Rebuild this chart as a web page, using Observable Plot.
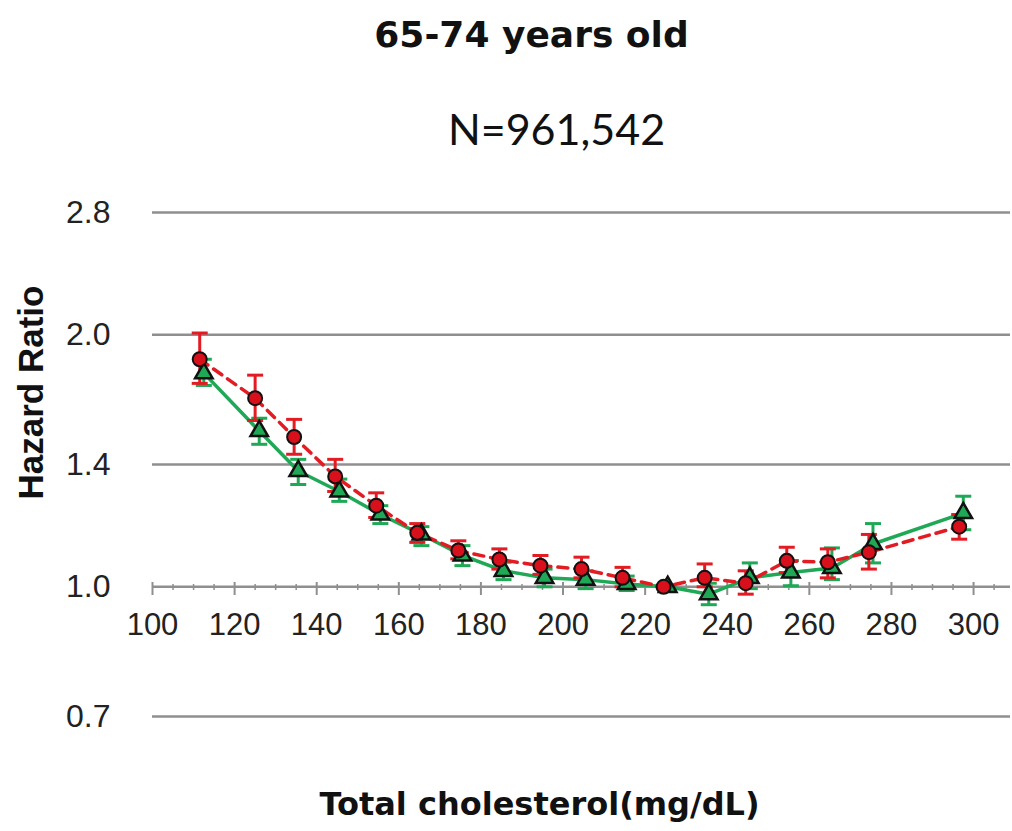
<!DOCTYPE html>
<html>
<head>
<meta charset="utf-8">
<script src="https://cdn.jsdelivr.net/npm/d3@7"></script>
<script src="https://cdn.jsdelivr.net/npm/@observablehq/plot@0.6"></script>
<style>
  html, body { margin: 0; padding: 0; background: #fff; }
  #chart svg { display: block; }
</style>
</head>
<body>
<div id="chart"></div>
<script>
// ---- Data ----
const title = "65-74 years old";
const subtitle = "N=961,542";
const xLabel = "Total cholesterol(mg/dL)";
const yLabel = "Hazard Ratio";

// series A (red circles, dashed line)
const xRed  = [111.5, 125, 134.5, 144.5, 154.5, 164.5, 174.5, 184.5, 194.5, 204.5, 214.5, 224.5, 234.5, 244.5, 254.5, 264.5, 274.5, 296.5];
const hrRed = [1.87, 1.68, 1.51, 1.355, 1.25, 1.16, 1.105, 1.078, 1.06, 1.05, 1.025, 1.0, 1.025, 1.01, 1.074, 1.07, 1.10, 1.18];
const loRed = [1.75, 1.58, 1.44, 1.30, 1.21, 1.13, 1.08, 1.05, 1.035, 1.025, 1.0, 1.0, 1.0, 0.98, 1.04, 1.025, 1.05, 1.14];
const hiRed = [2.01, 1.79, 1.585, 1.42, 1.295, 1.19, 1.135, 1.11, 1.09, 1.085, 1.055, 1.0, 1.065, 1.045, 1.115, 1.11, 1.155, 1.22];

// series B (green triangles, solid line)
const xGreen  = [112.5, 126, 135.5, 145.5, 155.5, 165.5, 175.5, 185.5, 195.5, 205.5, 215.5, 225.5, 235.5, 245.5, 255.5, 265.5, 275.5, 297.5];
const hrGreen = [1.80, 1.535, 1.375, 1.30, 1.22, 1.155, 1.09, 1.045, 1.025, 1.02, 1.008, 1.0, 0.98, 1.025, 1.04, 1.053, 1.125, 1.225];
const loGreen = [1.74, 1.48, 1.325, 1.265, 1.19, 1.12, 1.06, 1.02, 1.0, 0.995, 0.99, 1.0, 0.952, 0.995, 1.003, 1.02, 1.068, 1.17];
const hiGreen = [1.87, 1.59, 1.42, 1.345, 1.25, 1.18, 1.12, 1.07, 1.05, 1.045, 1.03, 1.0, 1.01, 1.068, 1.075, 1.113, 1.19, 1.283];

const yTicks = [0.7, 1.0, 1.4, 2.0, 2.8];
const xTicks = [100, 120, 140, 160, 180, 200, 220, 240, 260, 280, 300];
const xMinor = [105, 110, 115, 125, 130, 135, 145, 150, 155, 165, 170, 175, 185, 190, 195, 205, 210, 215, 225, 230, 235, 245, 250, 255, 265, 270, 275, 285, 290, 295, 305];

// ---- Build tables ----
const red = xRed.map((x, i) => ({x, hr: hrRed[i], lo: loRed[i], hi: hiRed[i]}));
const green = xGreen.map((x, i) => ({x, hr: hrGreen[i], lo: loGreen[i], hi: hiGreen[i]}));

const RED = "#e31b23";
const GREEN = "#1fa855";
const GRID = "#8f8f8f";

const capSymbol = {
  draw(ctx, size) {
    const w = Math.sqrt(size / Math.PI);
    ctx.moveTo(-w, 0);
    ctx.lineTo(w, 0);
  }
};

const tickFont = "'Liberation Sans', Arial, sans-serif";

const chart = Plot.plot({
  width: 1012,
  height: 831,
  marginTop: 212,
  marginBottom: 115,
  marginLeft: 152,
  marginRight: 2,
  style: {background: "#fff"},
  x: {domain: [100, 309]},
  y: {type: "log", domain: [0.7, 2.8]},
  marks: [
    // grid lines
    Plot.ruleY(yTicks, {stroke: GRID, strokeWidth: 2.5}),
    // y axis labels
    Plot.axisY({ticks: yTicks, tickSize: 0, tickPadding: 42, tickFormat: d3.format(".1f"),
      fontSize: 32, fontFamily: tickFont, fill: "#222", label: null}),
    // x axis drawn along y = 1.0
    Plot.axisX({ticks: xTicks, tickSize: 13, tickPadding: 17, dy: -134, stroke: GRID, strokeWidth: 2,
      fontSize: 31, fontFamily: tickFont, fill: "#222", label: null}),
    Plot.axisX({ticks: xMinor, tickSize: 6, dy: -132, stroke: GRID, strokeWidth: 1.5,
      tickFormat: () => "", label: null}),

    // green series
    Plot.line(green, {x: "x", y: "hr", stroke: GREEN, strokeWidth: 3.5}),
    Plot.ruleX(green, {x: "x", y1: "lo", y2: "hi", stroke: GREEN, strokeWidth: 3}),
    Plot.dot(green, {x: "x", y: "lo", r: 8, symbol: capSymbol, stroke: GREEN, fill: "none", strokeWidth: 3}),
    Plot.dot(green, {x: "x", y: "hi", r: 8, symbol: capSymbol, stroke: GREEN, fill: "none", strokeWidth: 3}),

    // red series
    Plot.line(red, {x: "x", y: "hr", stroke: RED, strokeWidth: 3.5, strokeDasharray: "10,7"}),
    Plot.ruleX(red, {x: "x", y1: "lo", y2: "hi", stroke: RED, strokeWidth: 3}),
    Plot.dot(red, {x: "x", y: "lo", r: 8, symbol: capSymbol, stroke: RED, fill: "none", strokeWidth: 3}),
    Plot.dot(red, {x: "x", y: "hi", r: 8, symbol: capSymbol, stroke: RED, fill: "none", strokeWidth: 3}),

    Plot.dot(green, {x: "x", y: "hr", symbol: "triangle", r: 6.5, fill: GREEN, stroke: "#111", strokeWidth: 2.5}),
    Plot.dot(red, {x: "x", y: "hr", symbol: "circle", r: 7, fill: "#d8101c", stroke: "#111", strokeWidth: 2}),

    // texts
    Plot.text([title], {frameAnchor: "top", dx: -50, dy: -191, fontSize: 36, fontWeight: "bold",
      fontFamily: "'DejaVu Sans', sans-serif", fill: "#111"}),
    Plot.text([subtitle], {frameAnchor: "top", dx: -25, dy: -98, fontSize: 43,
      fontFamily: "Lato, 'Open Sans', sans-serif", fill: "#111"}),
    Plot.text([xLabel], {frameAnchor: "bottom", dx: -42, dy: 98, fontSize: 32, fontWeight: "bold",
      fontFamily: "'DejaVu Sans', sans-serif", fill: "#111"}),
    Plot.text([yLabel], {frameAnchor: "left", textAnchor: "middle", dx: -121, dy: -72, rotate: -90, fontSize: 35, fontWeight: "bold",
      fontFamily: "'Liberation Sans', Arial, sans-serif", fill: "#111"})
  ]
});

document.getElementById("chart").appendChild(chart);
</script>
</body>
</html>
